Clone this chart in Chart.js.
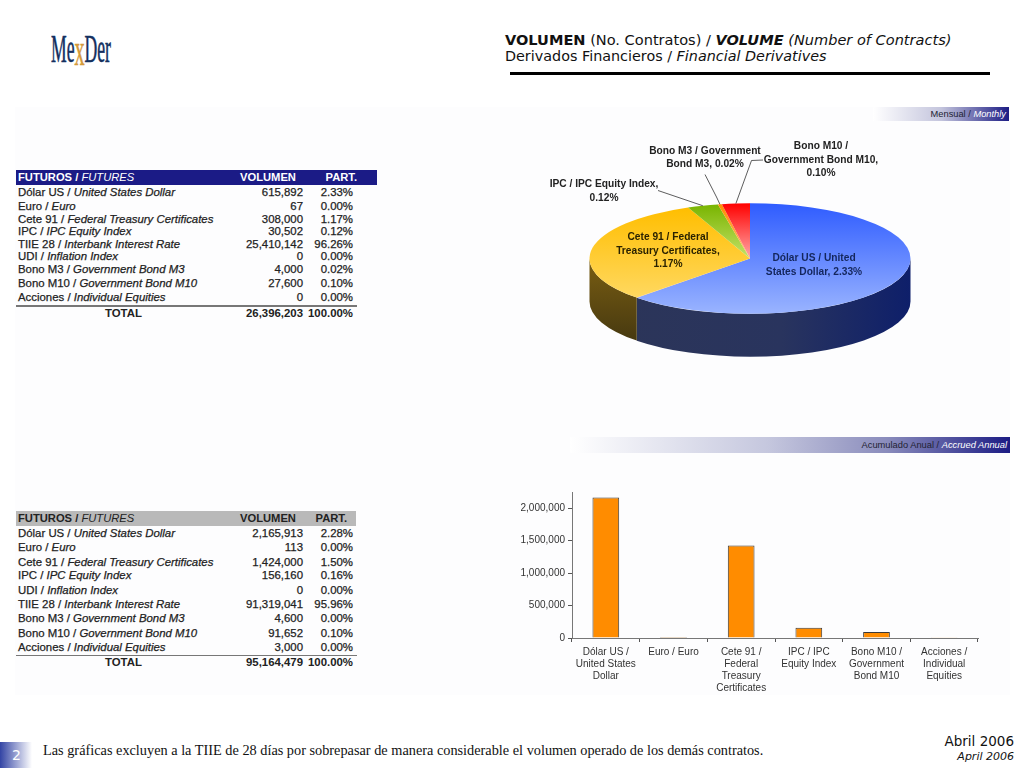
<!DOCTYPE html>
<html lang="es">
<head>
<meta charset="utf-8">
<title>MexDer - Volumen</title>
<script src="https://cdn.jsdelivr.net/npm/chart.js@4"></script>
<style>
  html, body { margin: 0; padding: 0; background: #fff; }
  #page { position: relative; width: 1024px; height: 768px; overflow: hidden; font-family: "Liberation Sans", Arial, sans-serif; color: #222; }
  #page > * { position: absolute; }
  #table1, #table2 { left: 0; top: 0; width: 1024px; height: 768px; }
  .abs { position: absolute; white-space: nowrap; }
  #panel { left: 15px; top: 107px; width: 995px; height: 588px; background: #fdfdfe; }
  #logo { left: 51px; top: 25px; font-family: "Liberation Serif", serif; font-size: 40px; color: #14305f; transform: scaleX(.44); transform-origin: left top; -webkit-text-stroke: .6px #14305f; white-space: nowrap; }
  #logo b { font-weight: 400; color: #d49a3a; -webkit-text-stroke: .6px #d49a3a; font-size: 46px; line-height: 0; position: relative; top: 3px; }
  .head { left: 505px; font-family: "DejaVu Sans", Verdana, sans-serif; font-size: 14.4px; color: #111; white-space: nowrap; }
  #rule { left: 510px; top: 72px; width: 480px; height: 3px; background: #000; }
  .band { font-size: 9.3px; text-align: right; color: #223; white-space: nowrap; box-sizing: border-box; padding-right: 3px; }
  .band i { color: #fff; }
  .row { font-size: 11.4px; color: #222; -webkit-text-stroke: .25px #222; }
  .row i { font-style: italic; }
  #note { left: 43px; top: 742px; font-family: "Liberation Serif", serif; font-size: 14.3px; color: #111; white-space: nowrap; }
  #num { left: 0; top: 742px; width: 32px; height: 26px; background: linear-gradient(90deg, #3344a4, #fff); color: #fff; font: 14px "DejaVu Sans", sans-serif; line-height: 26px; padding-left: 12px; box-sizing: border-box; }
  .date { right: 10px; font-family: "DejaVu Sans", Verdana, sans-serif; color: #111; white-space: nowrap; }
</style>
</head>
<body>
<div id="page">
  <div id="panel"></div>
  <div id="logo">Me<b>x</b>Der</div>
  <div class="head" style="top:31px;font-size:14.55px"><b>VOLUMEN</b> (No. Contratos) / <b><i>VOLUME</i></b> <i>(Number of Contracts)</i></div>
  <div class="head" style="top:48px;font-size:14.35px">Derivados Financieros / <i>Financial Derivatives</i></div>
  <div id="rule"></div>
  <div class="band" style="left:873px;top:107px;width:136px;height:14px;line-height:14px;background:linear-gradient(90deg,#fff 0%,#c4c5dd 50%,#1c1c84 100%)">Mensual / <i>Monthly</i></div>
  <div class="band" style="left:570px;top:437px;width:440px;height:16px;line-height:16px;background:linear-gradient(90deg,#fff 0%,#c5c7de 45%,#8a8cbc 72%,#1c1c84 100%)">Acumulado Anual / <i>Accrued Annual</i></div>
  <div id="table1"></div>
  <div id="table2"></div>
  <canvas id="pie" style="left:510px;top:97.5px;width:480px;height:321px"></canvas>
  <canvas id="bars" style="left:510px;top:480px;width:480px;height:220px"></canvas>
  <div id="num">2</div>
  <div id="note">Las gráficas excluyen a la TIIE de 28 días por sobrepasar de manera considerable el volumen operado de los demás contratos.</div>
  <div class="date" style="top:733px;font-size:13.5px">Abril 2006</div>
  <div class="date" style="top:750px;font-size:11px"><i>April 2006</i></div>
</div>

<script>
// monthly table
const monthNames = [
  ['Dólar US', 'United States Dollar'], ['Euro', 'Euro'], ['Cete 91', 'Federal Treasury Certificates'],
  ['IPC', 'IPC Equity Index'], ['TIIE 28', 'Interbank Interest Rate'], ['UDI', 'Inflation Index'],
  ['Bono M3', 'Government  Bond M3'], ['Bono M10', 'Government  Bond M10'], ['Acciones', 'Individual Equities'],
]
const monthVolume = ['615,892', '67', '308,000', '30,502', '25,410,142', '0', '4,000', '27,600', '0']
const monthPart = ['2.33%', '0.00%', '1.17%', '0.12%', '96.26%', '0.00%', '0.02%', '0.10%', '0.00%']

// year to date table
const yearNames = [
  ['Dólar US', 'United States Dollar'], ['Euro', 'Euro'], ['Cete 91', 'Federal Treasury Certificates'],
  ['IPC', 'IPC Equity Index'], ['UDI', 'Inflation Index'], ['TIIE 28', 'Interbank Interest Rate'],
  ['Bono M3', 'Government  Bond M3'], ['Bono M10', 'Government  Bond M10'], ['Acciones', 'Individual Equities'],
]
const yearVolume = ['2,165,913', '113', '1,424,000', '156,160', '0', '91,319,041', '4,600', '91,652', '3,000']
const yearPart = ['2.28%', '0.00%', '1.50%', '0.16%', '0.00%', '95.96%', '0.00%', '0.10%', '0.00%']

// pie (TIIE excluded)
const pieLabels = ['Dólar US', 'Euro', 'Cete 91', 'IPC', 'Bono M3', 'Bono M10']
const pieValues = [615892, 67, 308000, 30502, 4000, 27600]
const pieText = [
  ['Dólar US / United', 'States Dollar, 2.33%'],
  [],
  ['Cete 91 / Federal', 'Treasury Certificates,', '1.17%'],
  ['IPC / IPC Equity Index,', '0.12%'],
  ['Bono M3 / Government', 'Bond M3, 0.02%'],
  ['Bono M10 /', 'Government Bond M10,', '0.10%'],
]

// bars
const barLabels = [
  ['Dólar US /', 'United States', 'Dollar'], 'Euro / Euro', ['Cete 91 /', 'Federal', 'Treasury', 'Certificates'],
  ['IPC / IPC', 'Equity Index'], ['Bono M10 /', 'Government', 'Bond M10'], ['Acciones /', 'Individual', 'Equities'],
]
const barValues = [2165913, 113, 1424000, 156160, 91652, 3000]
const barTicks = [0, 500000, 1000000, 1500000, 2000000]

// styles and layout of the pie, page pixels
const TILT = 0.344
const DEPTH = 43
const sliceColors = [
  ['#2f5cff', '#9ab4ff'], ['#ff8c00', '#ffc070'], ['#ffbe00', '#ffd860'],
  ['#78b400', '#c4e268'], ['#ff8c00', '#ffc070'], ['#ff0000', '#ffa8a8'],
]
const labelSpots = [[814, 258], null, [668, 237], [604, 184], [705, 150.5], [821, 146]]
const labelInk = ['#14265c', '', '#2a2200', '#222', '#222', '#222']
const leaders = [null, null, null, [[658, 190]], [[705, 174], [716.5, 196.5]], [[763, 159.5], [751.5, 160]]]

function makeTable(el, names, volume, part, rowY, ruleY, o) {
  const put = (html, css) => {
    const d = document.createElement('div')
    d.className = 'abs row'
    d.innerHTML = html
    d.style.cssText = css
    el.appendChild(d)
    return d
  }
  const band = document.createElement('div')
  band.className = 'abs'
  band.style.cssText = `left:16px;top:${o.top}px;width:${o.width}px;height:${o.h}px;background:${o.bg}`
  el.appendChild(band)
  const hc = `color:${o.ink};-webkit-text-stroke:0;font-weight:bold;font-size:11.2px;line-height:${o.h}px;top:${o.top}px;`
  put(`FUTUROS / <i style="font-weight:normal">FUTURES</i>`, hc + 'left:18px')
  put('VOLUMEN', hc + 'left:240px')
  put('PART.', hc + `right:${1024 - o.partRight}px`)
  names.forEach((n, i) => {
    const base = `top:${rowY[i] - 7}px;line-height:14px;`
    put(`${n[0]} / <i>${n[1]}</i>`, base + 'left:18px')
    put(volume[i], base + 'right:721px')
    put(part[i], base + 'right:671px')
  })
  const t = `top:${rowY[9] - 7}px;line-height:14px;font-weight:bold;-webkit-text-stroke:0;`
  put('TOTAL', t + 'left:105px')
  put(o.total, t + 'right:721px')
  put('100.00%', t + 'right:671px')
  const rule = document.createElement('div')
  rule.className = 'abs'
  rule.style.cssText = `left:16px;top:${ruleY}px;width:341px;height:1.5px;background:#777`
  el.appendChild(rule)
}

makeTable(table1, monthNames, monthVolume, monthPart,
  [191.7, 205.7, 219, 231, 243.7, 256.3, 269, 283.3, 297, 313], 305,
  {top: 169.5, h: 15, width: 361, bg: '#1b1b86', ink: '#fff', partRight: 357, total: '26,396,203'})
makeTable(table2, yearNames, yearVolume, yearPart,
  [532.7, 547.3, 561.7, 575.3, 589.7, 604, 617.7, 633, 646.7, 662.3], 654.5,
  {top: 511, h: 15, width: 340, bg: '#b9b9b9', ink: '#222', partRight: 347, total: '95,164,479'})

const total = pieValues.reduce((a, b) => a + b, 0)

// canvas y range of one slice, before tilting, for its own gradient
function sliceSpan(i, cy, r) {
  const before = pieValues.slice(0, i).reduce((a, b) => a + b, 0)
  const a0 = (before / total) * Math.PI * 2 - Math.PI / 2
  const a1 = ((before + pieValues[i]) / total) * Math.PI * 2 - Math.PI / 2
  const ys = [cy, cy + Math.sin(a0) * r, cy + Math.sin(a1) * r]
  for (const k of [-Math.PI / 2, Math.PI / 2, Math.PI * 1.5]) {
    if (a0 <= k && k <= a1) ys.push(cy + Math.sin(k) * r)
  }
  return [Math.min(...ys), Math.max(...ys)]
}

function sliceFill(c) {
  const {chart, dataIndex} = c
  const area = chart.chartArea
  if (!area || dataIndex === undefined) return sliceColors[0][0]
  const cy = (area.top + area.bottom) / 2
  const r = (area.bottom - area.top) / 2
  const [y0, y1] = sliceSpan(dataIndex, cy, r)
  const g = chart.ctx.createLinearGradient(0, y0, 0, y1)
  g.addColorStop(0, sliceColors[dataIndex][0])
  g.addColorStop(1, sliceColors[dataIndex][1])
  return g
}

const tiltPie = {
  id: 'tiltPie',
  beforeDatasetsDraw(chart) {
    const {ctx} = chart
    const arcs = chart.getDatasetMeta(0).data
    const {x: cx, y: cy, outerRadius: r} = arcs[0]
    const ry = r * TILT

    // side wall, only the part of each slice facing the viewer
    arcs.forEach((arc, i) => {
      const a0 = Math.max(arc.startAngle, 0)
      const a1 = Math.min(arc.endAngle, Math.PI)
      if (a1 <= a0) return
      let g
      if (i === 0) {
        g = ctx.createLinearGradient(cx - r, 0, cx + r, 0)
        g.addColorStop(0, '#2c3558')
        g.addColorStop(0.6, '#29345e')
        g.addColorStop(1, '#0e1f6a')
      } else {
        g = ctx.createLinearGradient(0, cy, 0, cy + ry + DEPTH)
        g.addColorStop(0, '#7a5e12')
        g.addColorStop(1, '#3d3210')
      }
      ctx.beginPath()
      ctx.ellipse(cx, cy, r, ry, 0, a0, a1)
      ctx.ellipse(cx, cy + DEPTH, r, ry, 0, a1, a0, true)
      ctx.closePath()
      ctx.fillStyle = g
      ctx.fill()
    })

    ctx.save()
    ctx.translate(cx, cy)
    ctx.scale(1, TILT)
    ctx.translate(-cx, -cy)
  },
  afterDatasetsDraw(chart) {
    const {ctx, canvas} = chart
    ctx.restore()
    const arcs = chart.getDatasetMeta(0).data
    const {x: cx, y: cy, outerRadius: r} = arcs[0]
    const box = canvas.getBoundingClientRect()
    const page = canvas.parentElement.getBoundingClientRect()
    const ox = box.left - page.left
    const oy = box.top - page.top

    // leader lines run from the label to the rim at the middle of the slice
    ctx.strokeStyle = '#333'
    ctx.lineWidth = 0.8
    arcs.forEach((arc, i) => {
      if (!leaders[i]) return
      const mid = (arc.startAngle + arc.endAngle) / 2
      ctx.beginPath()
      leaders[i].forEach(([x, y], k) => {
        if (k === 0) ctx.moveTo(x - ox, y - oy)
        else ctx.lineTo(x - ox, y - oy)
      })
      ctx.lineTo(cx + Math.cos(mid) * r, cy + Math.sin(mid) * r * TILT)
      ctx.stroke()
    })

    ctx.font = 'bold 10.2px "Liberation Sans", Arial, sans-serif'
    ctx.textAlign = 'center'
    ctx.textBaseline = 'middle'
    pieText.forEach((lines, i) => {
      if (!labelSpots[i]) return
      ctx.fillStyle = labelInk[i]
      lines.forEach((line, k) => {
        ctx.fillText(line, labelSpots[i][0] - ox, labelSpots[i][1] - oy + k * 13.5)
      })
    })
  },
}

new Chart(document.getElementById('pie'), {
  type: 'pie',
  plugins: [tiltPie],
  data: {
    labels: pieLabels,
    datasets: [{data: pieValues, backgroundColor: sliceFill, borderWidth: 0}],
  },
  options: {
    responsive: false,
    animation: false,
    plugins: {legend: {display: false}, tooltip: {enabled: false}},
  },
})

new Chart(document.getElementById('bars'), {
  type: 'bar',
  data: {
    labels: barLabels,
    datasets: [{
      data: barValues,
      backgroundColor: '#ff8c00',
      borderColor: '#3a3a3a',
      borderWidth: 1,
      barPercentage: 0.395,
      categoryPercentage: 1,
    }],
  },
  options: {
    responsive: false,
    animation: false,
    layout: {padding: {top: 12, right: 12, bottom: 0, left: 0}},
    plugins: {legend: {display: false}, tooltip: {enabled: false}},
    scales: {
      x: {
        afterFit: (s) => { s.height = 62 },
        grid: {drawOnChartArea: false, color: '#555', tickLength: 4},
        border: {color: '#777'},
        ticks: {
          autoSkip: false, maxRotation: 0, padding: 4, color: '#333',
          font: {family: '"Liberation Sans", Arial, sans-serif', size: 10, lineHeight: 1.22},
        },
      },
      y: {
        min: 0,
        max: 2250000,
        afterFit: (s) => { s.width = 62 },
        afterBuildTicks: (s) => { s.ticks = barTicks.map((value) => ({value})) },
        grid: {drawOnChartArea: false, color: '#555', tickLength: 4},
        border: {color: '#777'},
        ticks: {
          padding: 3, color: '#333',
          font: {family: '"Liberation Sans", Arial, sans-serif', size: 10},
          callback: (v) => v.toLocaleString('en-US'),
        },
      },
    },
  },
})
</script>
</body>
</html>
